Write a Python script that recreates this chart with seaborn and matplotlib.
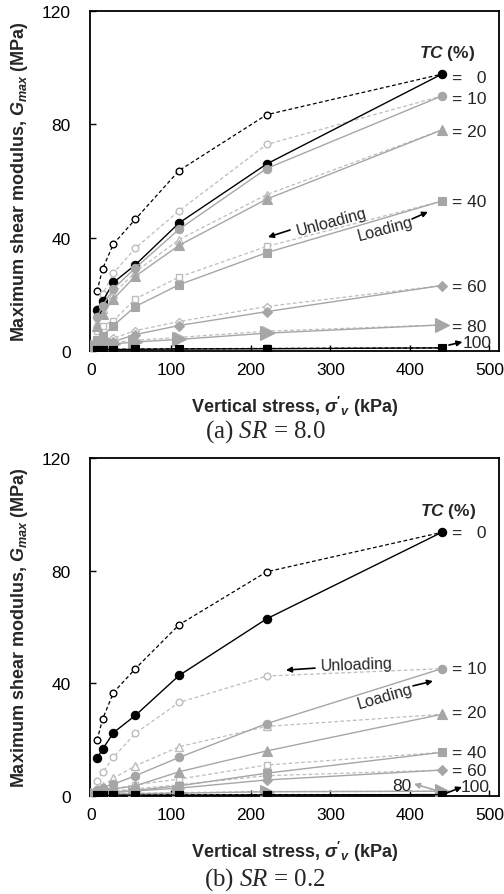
import matplotlib
matplotlib.use("Agg")
import matplotlib.pyplot as plt
import seaborn as sns

# ---------------- data ----------------
stress = [6.9, 13.8, 27.5, 55, 110, 220, 440]          # vertical stress (kPa)
tc_levels = [0, 10, 20, 40, 60, 80, 100]               # TC (%)

# (a) SR = 8.0  -- rows follow tc_levels
sr8_loading = [
    [14.5, 17.6, 24.2, 30.4, 45.2, 66.0, 97.7],
    [12.0, 16.0, 22.0, 29.3, 43.0, 64.4, 90.0],
    [9.0, 13.1, 18.4, 26.4, 37.3, 53.6, 78.0],
    [4.0, 5.4, 9.0, 15.7, 23.4, 34.7, 52.9],
    [2.0, 2.5, 3.3, 5.8, 9.0, 13.9, 23.1],
    [1.5, 2.0, 2.5, 3.2, 4.1, 6.3, 9.2],
    [0.4, 0.5, 0.5, 0.6, 0.7, 0.8, 1.1],
]
sr8_unloading = [
    [21.1, 29.0, 37.8, 46.5, 63.7, 83.4, 97.7],
    [15.0, 20.0, 27.5, 36.3, 49.5, 72.9, 90.0],
    [10.0, 15.0, 20.2, 27.9, 39.3, 55.2, 78.0],
    [7.0, 9.0, 10.7, 18.4, 26.1, 36.9, 52.9],
    [3.0, 3.5, 4.5, 7.2, 10.4, 15.7, 23.1],
    [2.0, 2.5, 3.0, 3.8, 4.8, 7.0, 9.2],
    [0.5, 0.6, 0.6, 0.7, 0.8, 0.9, 1.1],
]
# (b) SR = 0.2
sr02_loading = [
    [13.5, 16.6, 22.5, 28.6, 42.8, 62.9, 93.6],
    [2.0, 3.0, 4.2, 7.2, 13.7, 25.7, 45.2],
    [1.5, 1.8, 2.5, 3.6, 8.6, 16.0, 29.0],
    [1.0, 1.2, 1.5, 2.0, 3.6, 8.1, 15.5],
    [0.8, 1.0, 1.2, 1.8, 2.8, 5.7, 9.2],
    [0.5, 0.6, 0.7, 0.8, 1.0, 1.5, 1.7],
    [0.2, 0.2, 0.3, 0.3, 0.3, 0.4, 0.5],
]
sr02_unloading = [
    [19.8, 27.3, 36.7, 45.2, 60.8, 79.6, 93.6],
    [5.2, 8.4, 13.7, 22.3, 33.2, 42.6, 45.2],
    [2.5, 3.6, 6.3, 10.7, 17.5, 24.7, 29.0],
    [1.5, 1.8, 2.5, 4.0, 6.0, 11.0, 15.5],
    [1.0, 1.3, 1.8, 2.5, 4.0, 7.2, 9.2],
    [0.6, 0.7, 0.8, 1.0, 1.2, 1.6, 1.7],
    [0.3, 0.3, 0.3, 0.4, 0.4, 0.5, 0.5],
]

x_ticks = [0, 100, 200, 300, 400, 500]
y_ticks = [0, 40, 80, 120]

# ---------------- style ----------------
sns.set_theme(style="white")
plt.rcParams["font.family"] = ["Liberation Sans", "DejaVu Sans"]
plt.rcParams["mathtext.fontset"] = "custom"
plt.rcParams["mathtext.it"] = "Liberation Sans:italic:bold"
plt.rcParams["mathtext.rm"] = "Liberation Sans:bold"
plt.rcParams["mathtext.bf"] = "Liberation Sans:bold"
plt.rcParams["mathtext.cal"] = "Liberation Serif:italic"

GRAY = "#A6A6A6"
LGRAY = "#BDBDBD"
markers = {0: "o", 10: "o", 20: "^", 40: "s", 60: "D", 80: ">", 100: "s"}
msize = {0: 6.0, 10: 6.0, 20: 7.0, 40: 6.0, 60: 5.5, 80: 9.5, 100: 6.0}

fig = plt.figure(figsize=(5.04, 8.95), dpi=100)
ax_a = fig.add_axes([90 / 504, 1 - 352 / 895, 409 / 504, 340 / 895])
ax_b = fig.add_axes([90 / 504, 1 - 797 / 895, 409 / 504, 338 / 895])


def draw_panel(ax, loading, unloading):
    for i, tc in enumerate(tc_levels):
        dark = tc in (0, 100)
        c_load = "black" if dark else GRAY
        c_unl = "black" if dark else LGRAY
        # unloading (open markers, dashed)
        sns.lineplot(x=stress, y=unloading[i], ax=ax, color=c_unl,
                     linestyle=(0, (3, 2)), linewidth=0.9,
                     marker=markers[tc], markersize=msize[tc] * 0.8,
                     markerfacecolor="white", markeredgecolor=c_unl,
                     markeredgewidth=1.0, zorder=2)
        # loading (filled markers, solid)
        sns.lineplot(x=stress, y=loading[i], ax=ax, color=c_load,
                     linestyle="-", linewidth=1.0,
                     marker=markers[tc], markersize=msize[tc],
                     markerfacecolor=c_load, markeredgecolor=c_load,
                     markeredgewidth=0.8, zorder=3)
    ax.set_xlim(-2, 512)
    ax.set_ylim(0, 120)
    ax.set_xticks(x_ticks)
    ax.set_yticks(y_ticks)
    ax.tick_params(axis="both", direction="in", length=4, width=1,
                   labelsize=12.5, colors="black", bottom=True, left=True)
    ax.tick_params(axis="y", pad=14)
    ax.tick_params(axis="x", pad=8)
    for s in ax.spines.values():
        s.set_visible(True)
        s.set_color("black")
        s.set_linewidth(1.3)
    ax.set_xlabel(r"Vertical stress, $\sigma'_{v}$ (kPa)", fontsize=13,
                  fontweight="bold", va="center", ha="center")
    ax.set_ylabel(r"Maximum shear modulus, $G_{max}$ (MPa)", fontsize=13,
                  fontweight="bold", va="center", ha="center")
    ax.xaxis.set_label_coords(0.5, -0.163)
    ax.yaxis.set_label_coords(-0.172, 0.5)
    ax.grid(False)


draw_panel(ax_a, sr8_loading, sr8_unloading)
draw_panel(ax_b, sr02_loading, sr02_unloading)

lab_kw = dict(fontsize=12.5, ha="left", va="center")
arrow_k = dict(arrowstyle="-|>", color="black", lw=1.2, mutation_scale=8,
               shrinkA=0, shrinkB=0)

# ---- panel (a) annotations ----
ax_a.text(446.6, 105.5, r"$TC$ (%)", fontsize=12.5, fontweight="bold",
          ha="center", va="center")
for txt, yv in [("=   0", 96.4), ("= 10", 89.0), ("= 20", 77.3),
                ("= 40", 52.6), ("= 60", 22.9), ("= 80", 8.5)]:
    ax_a.text(452.9, yv, txt, **lab_kw)
ax_a.text(466.7, 3.0, "100", **lab_kw)
ax_a.annotate("", xy=(466.0, 3.2), xytext=(449.1, 2.1), arrowprops=arrow_k)
ax_a.text(302, 45.9, "Unloading", fontsize=11.5, rotation=15,
          ha="center", va="center", rotation_mode="anchor")
ax_a.annotate("", xy=(221.7, 40.2), xytext=(249.4, 42.7), arrowprops=arrow_k)
ax_a.text(368.7, 43.4, "Loading", fontsize=11.5, rotation=15,
          ha="center", va="center", rotation_mode="anchor")
ax_a.annotate("", xy=(422.7, 49.1), xytext=(402.6, 46.6), arrowprops=arrow_k)

# ---- panel (b) annotations ----
ax_b.text(447.9, 101.2, r"$TC$ (%)", fontsize=12.5, fontweight="bold",
          ha="center", va="center")
for txt, yv in [("=   0", 93.7), ("= 10", 45.4), ("= 20", 29.5),
                ("= 40", 15.6), ("= 60", 9.2)]:
    ax_b.text(452.9, yv, txt, **lab_kw)
ax_b.text(390, 3.9, "80", fontsize=12.5, ha="center", va="center")
ax_b.annotate("", xy=(405.2, 4.3), xytext=(431.5, 2.1),
              arrowprops=dict(arrow_k, color=GRAY))
ax_b.text(481.8, 3.5, "100", fontsize=12.5, ha="center", va="center")
ax_b.annotate("", xy=(465.5, 3.2), xytext=(446.6, 1.1), arrowprops=arrow_k)
ax_b.text(333.5, 46.9, "Unloading", fontsize=11.5, rotation=2,
          ha="center", va="center", rotation_mode="anchor")
ax_b.annotate("", xy=(244.3, 44.7), xytext=(280.8, 45.4), arrowprops=arrow_k)
ax_b.text(368.7, 35.5, "Loading", fontsize=11.5, rotation=16,
          ha="center", va="center", rotation_mode="anchor")
ax_b.annotate("", xy=(429.0, 40.8), xytext=(403.9, 39.1), arrowprops=arrow_k)

# ---- captions ----
fig.text(265 / 504, 1 - 432 / 895, r"(a) $\mathcal{SR}$ = 8.0",
         family="Liberation Serif", fontsize=18, ha="center", va="center")
fig.text(265 / 504, 1 - 880 / 895, r"(b) $\mathcal{SR}$ = 0.2",
         family="Liberation Serif", fontsize=18, ha="center", va="center")

fig.savefig("out.png", dpi=100)
